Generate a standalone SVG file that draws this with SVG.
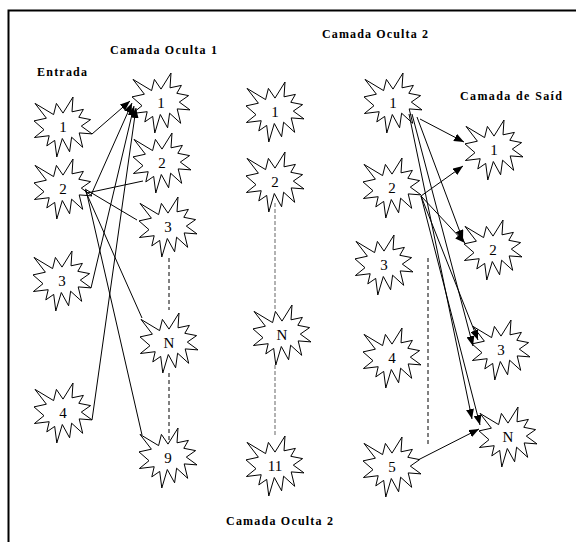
<svg xmlns="http://www.w3.org/2000/svg" xmlns:xlink="http://www.w3.org/1999/xlink" width="576" height="542" viewBox="0 0 576 542">
<style>
.star{fill:#fff;stroke:#000;stroke-width:1}
.num{font-family:"Liberation Serif","Times New Roman",serif;font-size:15px;text-anchor:middle;fill:#000}
.lbl{font-family:"Liberation Serif","Times New Roman",serif;font-size:12px;font-weight:bold;fill:#000}
.ln{stroke:#000;stroke-width:1;fill:none}
.arr{stroke:#000;stroke-width:1;fill:none;marker-end:url(#ah)}
.dash{stroke:#000;stroke-width:1;stroke-dasharray:4 3;fill:none}
.gdash{stroke:#999;stroke-width:1.5;stroke-dasharray:4 2;fill:none}
</style>
<defs>
<marker id="ah" viewBox="0 0 10 8" refX="10" refY="4" markerWidth="10" markerHeight="8" markerUnits="userSpaceOnUse" orient="auto">
<path d="M0,0 L10,4 L0,8 Z" fill="#000"/>
</marker>
<path id="star" d="M0,-13.9 L10,-30 L9,-15.2 L20.4,-17.6 L15.8,-9.7 L27.6,-7.4 L18.3,-0.9 L29,6.9 L16.2,5.9 L19.7,20.3 L8.6,10.2 L6.6,24.8 L-0.7,11.5 L-6.2,30 L-8.3,13.4 L-16.2,18.9 L-13.8,8.7 L-28.6,10.5 L-19,2.7 L-29,-6.1 L-16.6,-8.8 L-28,-23.6 L-9.4,-12.4 L-6.6,-23.6 Z"/>
</defs>
<rect width="576" height="542" fill="#fff"/>
<path d="M8.5,542 L8.5,10.5 L576,10.5" stroke="#000" stroke-width="2" fill="none"/>

<g id="labels">
<text class="lbl" x="37" y="76" textLength="50" lengthAdjust="spacing">Entrada</text>
<text class="lbl" x="110" y="54" textLength="107" lengthAdjust="spacing">Camada Oculta 1</text>
<text class="lbl" x="322" y="38" textLength="106" lengthAdjust="spacing">Camada Oculta 2</text>
<text class="lbl" x="460" y="100" textLength="102" lengthAdjust="spacing">Camada de Saíd</text>
<text class="lbl" x="226" y="525" textLength="107" lengthAdjust="spacing">Camada Oculta 2</text>
</g>

<g id="guides">
<line class="dash" x1="169" y1="258" x2="169" y2="310"/>
<line class="dash" x1="169" y1="373" x2="169" y2="442"/>
<line class="gdash" x1="275" y1="203" x2="275" y2="310"/>
<line class="gdash" x1="275" y1="365" x2="275" y2="435"/>
<line class="dash" x1="428" y1="258" x2="428" y2="445"/>
</g>

<g id="in1"><use xlink:href="#star" href="#star" x="63" y="127" class="star"/><text class="num" x="63" y="132">1</text></g>
<g id="in2"><use xlink:href="#star" href="#star" x="63" y="189" class="star"/><text class="num" x="63" y="194">2</text></g>
<g id="in3"><use xlink:href="#star" href="#star" x="62" y="281" class="star"/><text class="num" x="62" y="286">3</text></g>
<g id="in4"><use xlink:href="#star" href="#star" x="63" y="413" class="star"/><text class="num" x="63" y="418">4</text></g>

<g id="h1_1"><use xlink:href="#star" href="#star" x="161" y="103" class="star"/><text class="num" x="161" y="108">1</text></g>
<g id="h1_2"><use xlink:href="#star" href="#star" x="162" y="163" class="star"/><text class="num" x="162" y="168">2</text></g>
<g id="h1_3"><use xlink:href="#star" href="#star" x="168" y="227" class="star"/><text class="num" x="168" y="232">3</text></g>
<g id="h1_N"><use xlink:href="#star" href="#star" x="169" y="343" class="star"/><text class="num" x="169" y="348">N</text></g>
<g id="h1_9"><use xlink:href="#star" href="#star" x="168" y="458" class="star"/><text class="num" x="168" y="463">9</text></g>

<g id="m_1"><use xlink:href="#star" href="#star" x="275" y="112" class="star"/><text class="num" x="275" y="117">1</text></g>
<g id="m_2"><use xlink:href="#star" href="#star" x="275" y="182" class="star"/><text class="num" x="275" y="187">2</text></g>
<g id="m_N"><use xlink:href="#star" href="#star" x="282" y="335" class="star"/><text class="num" x="282" y="340">N</text></g>
<g id="m_11"><use xlink:href="#star" href="#star" x="275" y="466" class="star"/><text class="num" x="275" y="471">11</text></g>

<g id="h2_1"><use xlink:href="#star" href="#star" x="393" y="103" class="star"/><text class="num" x="393" y="108">1</text></g>
<g id="h2_2"><use xlink:href="#star" href="#star" x="392" y="188" class="star"/><text class="num" x="392" y="193">2</text></g>
<g id="h2_3"><use xlink:href="#star" href="#star" x="384" y="265" class="star"/><text class="num" x="384" y="270">3</text></g>
<g id="h2_4"><use xlink:href="#star" href="#star" x="392" y="358" class="star"/><text class="num" x="392" y="363">4</text></g>
<g id="h2_5"><use xlink:href="#star" href="#star" x="392" y="467" class="star"/><text class="num" x="392" y="472">5</text></g>

<g id="out1"><use xlink:href="#star" href="#star" x="494" y="150" class="star"/><text class="num" x="494" y="155">1</text></g>
<g id="out2"><use xlink:href="#star" href="#star" x="493" y="250" class="star"/><text class="num" x="493" y="255">2</text></g>
<g id="out3"><use xlink:href="#star" href="#star" x="501" y="350" class="star"/><text class="num" x="501" y="355">3</text></g>
<g id="outN"><use xlink:href="#star" href="#star" x="508" y="437" class="star"/><text class="num" x="508" y="442">N</text></g>

<g id="connectors">
<line class="arr" x1="92" y1="134" x2="130" y2="101"/>
<line class="arr" x1="91" y1="195" x2="132" y2="103"/>
<line class="arr" x1="91" y1="288" x2="134" y2="106"/>
<line class="arr" x1="92" y1="420" x2="136" y2="108"/>
<line class="ln" x1="87" y1="193" x2="143" y2="181"/>
<line class="ln" x1="85" y1="189" x2="137" y2="220"/>
<line class="ln" x1="85" y1="190" x2="142" y2="318"/>
<line class="ln" x1="86" y1="190" x2="142" y2="435"/>
<line class="arr" x1="420" y1="119" x2="464" y2="142"/>
<line class="arr" x1="417" y1="117" x2="463" y2="240"/>
<line class="arr" x1="412" y1="114" x2="473" y2="346"/>
<line class="arr" x1="409" y1="114" x2="472" y2="419"/>
<line class="arr" x1="421" y1="196" x2="463" y2="166"/>
<line class="arr" x1="421" y1="196" x2="465" y2="243"/>
<line class="arr" x1="421" y1="196" x2="478" y2="340"/>
<line class="arr" x1="421" y1="196" x2="480" y2="425"/>
<line class="arr" x1="418" y1="460" x2="479" y2="429"/>
</g>
</svg>
